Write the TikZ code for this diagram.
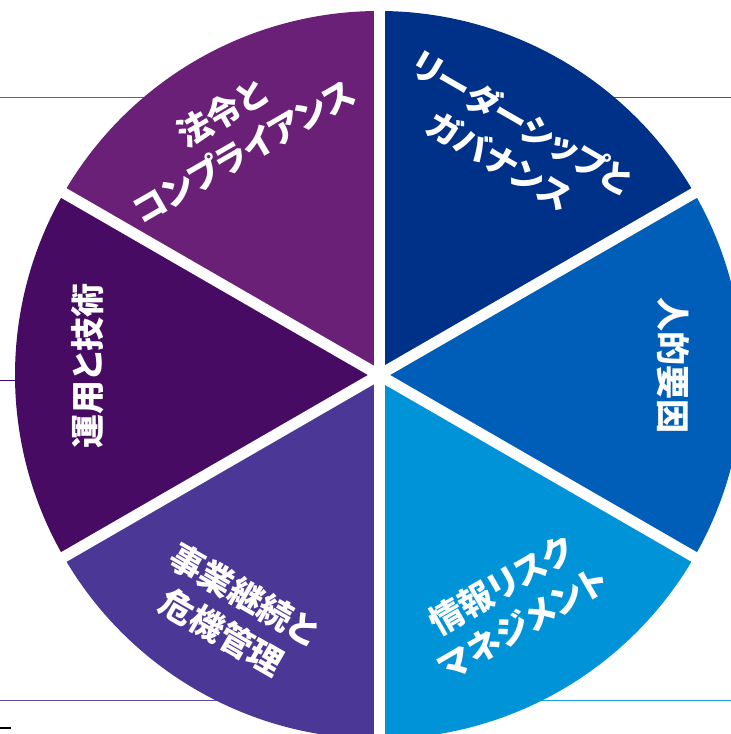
\documentclass[tikz,border=0pt]{standalone}
\usepackage{fontspec}
\newfontfamily\jp[RawFeature=+palt]{Noto Sans CJK JP}
\definecolor{cTL}{HTML}{6B2077}
\definecolor{cTR}{HTML}{003189}
\definecolor{cR}{HTML}{005EB8}
\definecolor{cBR}{HTML}{0093D7}
\definecolor{cBL}{HTML}{4A3796}
\definecolor{cL}{HTML}{470B63}
\tikzset{
  lbl/.style={text=white, font=\jp\bfseries\fontsize{34}{44}\selectfont, align=center, inner sep=0pt},
  hline/.style={line width=1.3pt},
  gap/.style={draw=white, line width=11pt}
}
\begin{document}
\begin{tikzpicture}[x=1pt,y=1pt]
\useasboundingbox (0,0) rectangle (731,734);
\clip (0,0) rectangle (731,734);
\fill[white] (0,0) rectangle (731,734);
% thin horizontal rules behind the pie
\draw[hline, cTL!80] (0,636.3) -- (380,636.3);
\draw[hline, cTR!80] (380,636.3) -- (731,636.3);
\draw[hline, cL] (0,353.5) -- (380,353.5);
\draw[hline, cBL!90] (0,33.3) -- (380,33.3);
\draw[hline, cBR!90] (380,33.3) -- (731,33.3);
\draw[line width=2pt, black] (0,6) -- (11,6);
% pie
\coordinate (C) at (379,359);
\def\R{364}
\fill[cTR] (C) -- ++(90:\R) arc[start angle=90, end angle=30, radius=\R] -- cycle;
\fill[cR] (C) -- ++(30:\R) arc[start angle=30, end angle=-30, radius=\R] -- cycle;
\fill[cBR] (C) -- ++(-30:\R) arc[start angle=-30, end angle=-90, radius=\R] -- cycle;
\fill[cBL] (C) -- ++(-90:\R) arc[start angle=-90, end angle=-150, radius=\R] -- cycle;
\fill[cL] (C) -- ++(-150:\R) arc[start angle=-150, end angle=-210, radius=\R] -- cycle;
\fill[cTL] (C) -- ++(150:\R) arc[start angle=150, end angle=90, radius=\R] -- cycle;
% white gaps
\foreach \a in {90,30,-30,-90,150,210} {
  \draw[gap] (C) -- ++(\a:\R+3);
}
% labels
\node[lbl, rotate=30, text depth=0pt] (tl) at (232,603) {\fontsize{34}{52}\selectfont 法令と\\コンプライアンス};
\node[lbl, rotate=-30] (tr) at (511,593) {\fontsize{34}{40}\selectfont リーダーシップと\\ガバナンス};
\node[lbl, rotate=-90] (r) at (673,368) {人的要因};
\node[lbl, rotate=90] (l) at (88,368) {運用と技術};
\node[lbl, rotate=30] (br) at (512,130) {\fontsize{34}{46}\selectfont 情報リスク\\マネジメント};
\node[lbl, rotate=-30] (bl) at (233,121) {\fontsize{34}{48}\selectfont 事業継続と\\危機管理};
\end{tikzpicture}
\end{document}
